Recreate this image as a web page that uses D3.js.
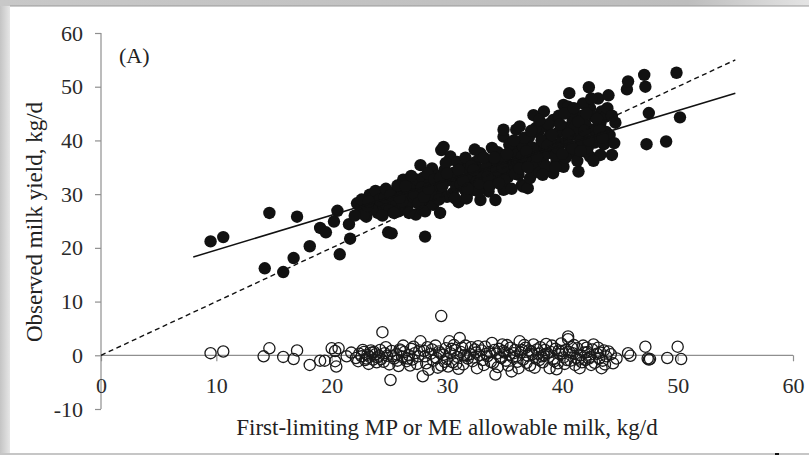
<!DOCTYPE html>
<html>
<head>
<meta charset="utf-8">
<script src="https://cdn.jsdelivr.net/npm/d3@7"></script>
<style>
  html, body { margin: 0; padding: 0; background: #fff; }
  svg { display: block; }
</style>
</head>
<body>
<div id="chart"></div>
<script>
// observed milk yield vs first-limiting allowable milk (filled)
var observed = [
  [9.5,21.2],[10.6,22.0],[14.2,16.2],[14.6,26.5],[15.8,15.5],[16.7,18.1],[17.0,25.8],[18.1,20.3],
  [19.0,23.7],[19.5,22.9],[20.2,24.9],[20.5,26.9],[20.7,18.8],[21.5,24.4],[21.6,21.7],
  [22.2,28.3],[22.5,27.1],[23.0,25.8],[23.3,29.9],[23.6,29.5],[23.9,28.3],[24.0,26.5],[23.5,27.2],
  [22.8,26.2],[24.3,30.3],[24.5,27.8],[24.8,27.7],[24.9,22.9],[25.2,22.7],
  [25.3,29.0],[25.5,30.5],[25.6,28.0],[25.8,26.8],[26.0,31.2],[26.2,32.7],[26.3,29.8],[26.5,27.5],
  [26.6,30.6],[26.8,28.4],[27.0,31.5],[27.1,29.5],[27.4,32.7],[27.3,26.2],[27.6,30.2],[27.7,35.4],
  [27.9,27.1],[27.9,33.0],[28.1,22.1],[28.1,26.8],[28.2,30.8],[28.4,29.0],[28.5,32.0],[28.7,34.8],
  [28.8,28.0],[29.0,31.0],[29.1,31.4],[29.2,33.5],[29.4,26.5],[29.5,38.2],[29.6,30.0],[29.7,38.8],
  [29.8,34.5],[30.0,29.5],[30.1,32.6],[30.3,36.4],[30.3,37.0],[30.5,30.2],[30.6,34.0],[30.8,31.5],
  [31.0,28.5],[31.1,33.0],[31.3,35.5],[31.5,31.0],[31.7,29.5],[31.7,29.2],[31.9,34.2],[32.0,31.7],
  [32.2,33.3],[32.3,30.8],[32.5,36.0],[32.6,32.4],[32.9,37.6],[32.9,28.9],[32.9,37.0],[33.1,34.6],
  [33.3,31.6],[33.6,36.1],[33.6,30.5],[33.8,33.5],[34.0,35.2],[34.2,28.9],[34.2,32.3],[34.4,37.8],
  [34.6,34.0],[34.9,30.8],[34.9,40.7],[34.9,42.0],[35.1,36.4],[35.3,33.2],[35.5,34.8],[35.7,38.5],
  [35.8,35.5],[36.0,42.0],[36.0,37.3],[36.2,33.6],[36.3,42.6],[36.4,39.8],[36.5,31.7],[36.6,38.8],
  [36.6,31.4],[36.8,35.8],[37.0,31.1],[37.1,40.6],[37.3,37.0],[37.5,44.7],[37.6,34.3],[37.8,35.8],
  [37.9,41.5],[38.1,38.6],[38.3,36.2],[38.4,45.4],[38.4,39.5],[38.5,42.6],[38.7,37.6],[38.9,40.8],
  [39.2,43.8],[39.2,33.9],[39.3,38.2],[39.5,36.1],[39.6,41.4],[39.8,39.4],[40.1,35.1],[40.1,46.6],
  [40.2,42.4],[40.4,40.0],[40.5,46.3],[40.6,48.8],[40.7,37.8],[40.9,43.6],[41.0,37.6],[41.2,41.0],
  [41.4,34.2],[41.5,39.0],[41.7,44.6],[41.9,40.3],[42.1,37.8],[42.3,49.9],[42.4,46.0],[42.4,37.0],
  [42.6,42.0],[42.8,39.6],[43.1,47.8],[43.3,43.2],[43.3,37.3],[43.4,45.4],[43.6,39.3],[43.8,41.6],
  [44.0,48.4],[44.3,37.3],[44.6,43.3],[45.6,49.5],[45.7,51.0],[47.1,52.2],[47.2,50.0],[47.3,39.3],
  [47.5,45.1],[49.0,39.8],[49.9,52.6],[50.2,44.3],
  [23.1,27.8],[23.8,30.6],[24.1,28.9],[24.6,29.4],[25.0,27.0],[25.7,31.6],[26.1,28.6],[26.9,33.4],
  [27.2,30.0],[27.8,31.2],[28.3,33.8],[28.6,30.0],[29.3,29.0],[29.9,35.8],[30.4,33.5],[30.9,36.0],
  [31.2,31.8],[31.6,36.8],[32.1,35.2],[32.4,38.3],[32.7,30.5],[33.0,33.0],[33.4,35.0],[33.9,38.6],
  [34.3,34.5],[34.7,36.5],[35.0,32.6],[35.4,39.2],[35.9,33.8],[36.1,36.0],[36.7,40.5],[37.2,33.0],
  [37.4,38.7],[37.7,42.3],[38.0,34.0],[38.2,40.0],[38.6,35.2],[38.8,43.0],[39.0,39.6],[39.4,37.1],
  [39.7,44.6],[39.9,41.8],[40.3,36.8],[40.6,39.2],[40.8,44.8],[41.1,42.5],[41.3,36.2],[41.6,40.0],
  [41.8,46.9],[42.0,43.0],[42.2,38.6],[42.7,44.5],[42.9,40.8],[43.2,42.0],[43.7,44.4],[44.1,41.0],
  [44.5,39.5],
  [22.0,26.0],[22.6,29.0],[23.2,28.6],[24.4,26.0],[24.7,31.0],[25.1,29.8],[25.4,26.5],[25.9,29.3],
  [26.4,31.5],[26.7,26.5],[27.5,28.3],[28.0,29.5],[28.4,31.0],[28.9,32.8],[29.4,33.0],[29.6,31.5],
  [30.0,33.8],[30.7,29.2],[31.0,34.5],[31.4,32.5],[31.8,31.0],[32.3,34.5],[32.8,32.0],[33.2,36.8],
  [33.5,33.2],[33.7,31.5],[34.1,36.8],[34.5,32.0],[34.8,35.0],[35.2,37.5],[35.6,31.0],[35.8,40.0],
  [36.3,34.8],[36.5,37.0],[36.9,38.0],[37.0,35.0],[37.3,41.8],[37.8,37.0],[38.0,43.8],[38.3,33.6],
  [38.7,39.0],[39.1,41.0],[39.4,35.0],[39.6,38.5],[39.8,43.0],[40.0,37.5],[40.2,45.0],[40.5,41.2],
  [40.9,38.5],[41.0,46.0],[41.4,43.5],[41.6,38.0],[41.9,41.8],[42.1,45.0],[42.3,40.0],[42.5,47.8],
  [42.7,36.2],[43.0,44.0],[43.5,40.5],[43.9,46.0],[44.3,44.6]
];

// residuals (open)
var residual = [
  [9.5,0.4],[10.6,0.7],[14.1,-0.2],[14.6,1.3],[15.8,-0.3],[16.7,-0.7],[17.0,0.9],[18.1,-1.8],
  [19.0,-1.0],[19.4,-1.0],[20.0,1.3],[20.3,0.8],[20.4,-2.1],[20.3,-1.1],[20.6,1.3],[21.3,-0.2],
  [21.7,0.5],[22.1,-0.5],[22.4,0.3],[22.6,-0.2],[22.8,0.6],[23.0,-0.6],[23.1,0.1],[23.3,-0.3],
  [23.5,0.5],[23.6,-0.8],[23.8,0.2],[24.0,-0.4],[24.2,1.0],[24.4,4.3],[24.5,-1.2],[24.6,0.4],
  [24.8,-0.1],[25.0,-1.7],[25.1,-4.6],[25.2,0.8],[25.4,-0.6],[25.6,0.2],[25.8,-2.0],[25.9,1.1],
  [26.1,-0.3],[26.3,0.6],[26.5,-1.1],[26.7,0.0],[26.9,1.2],[27.0,-0.8],[27.2,0.4],[27.4,-1.6],
  [27.6,0.9],[27.7,2.6],[27.9,-3.9],[28.1,-0.2],[28.3,1.5],[28.4,-2.7],[28.6,0.3],[28.8,-1.0],
  [29.0,1.8],[29.1,-0.5],[29.3,0.7],[29.5,7.3],[29.5,-1.9],[29.7,0.1],[29.9,1.3],[30.0,-0.7],
  [30.2,2.6],[30.3,0.4],[30.5,-1.3],[30.7,1.0],[30.9,-0.3],[31.1,3.2],[31.2,0.6],[31.4,-1.7],
  [31.6,1.8],[31.8,-0.6],[32.0,0.2],[32.2,-1.1],[32.4,1.1],[32.6,-2.4],[32.8,0.0],[33.0,0.9],
  [33.1,-0.9],[33.3,1.6],[33.5,-0.2],[33.7,0.6],[33.9,2.3],[34.0,-1.4],[34.2,-3.6],[34.3,0.3],
  [34.5,1.2],[34.7,-0.5],[34.9,0.8],[35.1,-1.0],[35.2,1.9],[35.4,0.1],[35.6,-3.0],[35.7,-0.4],
  [35.9,1.0],[36.1,-1.2],[36.3,2.6],[36.4,0.5],[36.6,-0.8],[36.8,1.4],[37.0,-0.1],[37.2,-1.9],
  [37.3,0.7],[37.5,2.0],[37.7,-0.6],[37.9,0.3],[38.1,1.5],[38.3,-1.3],[38.4,0.0],[38.6,2.1],
  [38.9,-2.4],[39.0,0.6],[39.2,-0.7],[39.4,1.2],[39.6,-1.5],[39.8,0.2],[39.9,2.2],[40.1,-0.4],
  [40.3,1.0],[40.5,3.5],[40.5,3.0],[40.7,-1.0],[40.9,0.4],[41.1,-1.8],[41.3,1.3],[41.5,-2.4],
  [41.6,0.0],[41.8,1.8],[42.0,-0.9],[42.2,0.6],[42.4,-0.3],[42.6,1.1],[42.8,-1.4],[43.0,0.3],
  [43.2,-0.6],[43.4,-2.4],[43.6,0.9],[43.8,-0.2],[44.0,0.7],[44.4,-1.5],[44.7,-0.6],[45.7,0.4],
  [45.9,-0.1],[47.2,1.6],[47.4,-0.6],[47.5,-0.8],[47.6,-0.7],[49.1,-0.5],[50.0,1.6],[50.3,-0.7],
  [22.9,-0.9],[23.4,0.9],[23.9,-1.3],[24.3,-0.7],[26.0,0.9],[26.8,-1.9],[28.0,0.8],[29.2,-2.3],
  [30.1,-2.1],[30.6,1.9],[31.0,-2.5],[31.5,0.0],[32.1,1.5],[32.5,0.5],[33.2,-1.8],[34.4,-2.2],
  [34.8,2.0],[35.3,-1.9],[35.8,0.4],[36.2,-2.4],[36.7,1.9],[37.1,0.9],[37.6,-2.3],[38.0,-0.9],
  [38.5,1.0],[38.8,-0.3],[39.1,1.8],[39.5,-2.6],[40.0,0.8],[40.4,-0.9],[40.8,1.5],[41.2,-0.5],
  [41.7,-1.3],[42.1,1.4],[42.5,-1.8],[43.1,1.4],[43.5,-1.0],[44.2,0.2],
  [22.3,-1.1],[22.7,1.0],[23.2,-1.6],[23.7,0.6],[24.1,-0.1],[24.7,1.5],[25.3,-0.2],[25.7,-1.0],
  [26.2,1.8],[26.6,-0.6],[27.1,1.6],[27.5,-0.2],[28.2,-1.5],[28.7,1.1],[29.4,0.4],[29.8,-1.2],
  [30.4,1.2],[30.8,-1.6],[31.3,1.4],[31.7,-0.1],[32.3,-0.4],[32.7,1.7],[33.4,0.3],[33.8,-1.2],
  [34.1,1.0],[34.6,-0.3],[35.0,0.5],[35.5,1.4],[36.0,-0.2],[36.5,1.0],[36.9,-1.4],[37.4,0.2],
  [37.8,1.1],[38.2,-0.2],[38.7,0.4],[39.3,-1.1],[39.7,0.9],[40.2,-1.6],[40.6,0.6],[41.0,1.9],
  [41.4,-0.8],[41.9,0.5],[42.3,-0.6],[42.7,2.0],[43.3,0.5],[43.7,-1.7]
];

// fitted regression and 1:1 line (end points)
var fitLine = [[8.0,18.3],[55.0,48.8]];
var unityLine = [[0,0],[55,55]];

var xTicks = [0, 10, 20, 30, 40, 50, 60];
var yTicks = [-10, 0, 10, 20, 30, 40, 50, 60];
var xTitle = 'First-limiting MP or ME allowable milk, kg/d';
var yTitle = 'Observed milk yield, kg/d';
var panelLabel = '(A)';

var W = 809, H = 455;
var FONT = '"Liberation Serif", "Times New Roman", serif';
var AXIS = '#8f8f8f';

var svg = d3.select('#chart').append('svg')
    .attr('width', W)
    .attr('height', H);

// picture frame (gray border round the figure)
var defs = svg.append('defs');
var lg = defs.append('linearGradient').attr('id', 'leftEdge')
    .attr('x1', 0).attr('x2', 1).attr('y1', 0).attr('y2', 0);
lg.append('stop').attr('offset', '0%').attr('stop-color', '#c4c4c4');
lg.append('stop').attr('offset', '100%').attr('stop-color', '#e6e6e6');
var tg = defs.append('linearGradient').attr('id', 'topEdge')
    .attr('x1', 0).attr('x2', 1).attr('y1', 0).attr('y2', 0);
tg.append('stop').attr('offset', '0%').attr('stop-color', '#c8c8c8');
tg.append('stop').attr('offset', '85%').attr('stop-color', '#bdbdbd');
tg.append('stop').attr('offset', '100%').attr('stop-color', '#e4e4e4');

svg.append('rect').attr('x', 0).attr('y', 0).attr('width', W).attr('height', H).attr('fill', '#fff');
svg.append('rect').attr('x', 0).attr('y', 0).attr('width', 10).attr('height', H).attr('fill', 'url(#leftEdge)');
svg.append('rect').attr('x', 0).attr('y', 0).attr('width', W).attr('height', 6).attr('fill', 'url(#topEdge)');
svg.append('rect').attr('x', 10).attr('y', 5.5).attr('width', W - 10).attr('height', 1).attr('fill', '#9a9a9a');
svg.append('rect').attr('x', 0).attr('y', H - 2).attr('width', W).attr('height', 2).attr('fill', '#c6c6c6');
svg.append('rect').attr('x', 775).attr('y', H - 2).attr('width', 4).attr('height', 2).attr('fill', '#111');

var x = d3.scaleLinear().domain([0, 60]).range([101, 793]);
var y = d3.scaleLinear().domain([-10, 60]).range([409, 33]);

// plain hyphen for negatives, as in the original
var fmt = d => String(d);

// y axis
var yAxis = svg.append('g')
    .attr('transform', 'translate(' + x(0) + ',0)')
    .call(d3.axisLeft(y).tickValues(yTicks).tickSize(6).tickPadding(12).tickFormat(fmt));
yAxis.select('.domain').attr('stroke', AXIS).attr('stroke-width', 1.2).attr('d', 'M0,' + y(-10) + 'V' + y(60));
yAxis.selectAll('.tick line').attr('stroke', AXIS).attr('stroke-width', 1.2);
yAxis.selectAll('.tick text')
    .attr('fill', '#2a2a2a')
    .style('font-family', FONT)
    .style('font-size', '22px');

// x axis, drawn at y = 0
var xAxis = svg.append('g')
    .attr('transform', 'translate(0,' + y(0) + ')')
    .call(d3.axisBottom(x).tickValues(xTicks).tickSize(6).tickPadding(16).tickFormat(fmt));
xAxis.select('.domain').attr('stroke', AXIS).attr('stroke-width', 1.2).attr('d', 'M' + x(0) + ',0H' + x(60));
xAxis.selectAll('.tick line').attr('stroke', AXIS).attr('stroke-width', 1.2);
xAxis.selectAll('.tick text')
    .attr('fill', '#2a2a2a')
    .style('font-family', FONT)
    .style('font-size', '22px');

var line = d3.line().x(d => x(d[0])).y(d => y(d[1]));

// residuals
svg.append('g').selectAll('circle')
    .data(residual)
  .enter().append('circle')
    .attr('cx', d => x(d[0]))
    .attr('cy', d => y(d[1]))
    .attr('r', 5.6)
    .attr('fill', 'none')
    .attr('stroke', '#1a1a1a')
    .attr('stroke-width', 1.3);

// observed
svg.append('g').selectAll('circle')
    .data(observed)
  .enter().append('circle')
    .attr('cx', d => x(d[0]))
    .attr('cy', d => y(d[1]))
    .attr('r', 6.2)
    .attr('fill', '#111');

svg.append('path')
    .datum(unityLine)
    .attr('d', line)
    .attr('fill', 'none')
    .attr('stroke', '#111')
    .attr('stroke-width', 1.4)
    .attr('stroke-dasharray', '5,3.5');

svg.append('path')
    .datum(fitLine)
    .attr('d', line)
    .attr('fill', 'none')
    .attr('stroke', '#111')
    .attr('stroke-width', 1.5);

svg.append('text')
    .attr('x', 119).attr('y', 63)
    .attr('fill', '#222')
    .style('font-family', FONT)
    .style('font-size', '22px')
    .text(panelLabel);

svg.append('text')
    .attr('x', (x(0) + x(60)) / 2).attr('y', 435)
    .attr('text-anchor', 'middle')
    .attr('fill', '#222')
    .style('font-family', FONT)
    .style('font-size', '23px')
    .text(xTitle);

svg.append('text')
    .attr('transform', 'translate(42,' + 222 + ') rotate(-90)')
    .attr('text-anchor', 'middle')
    .attr('fill', '#222')
    .style('font-family', FONT)
    .style('font-size', '23px')
    .text(yTitle);
</script>
</body>
</html>
